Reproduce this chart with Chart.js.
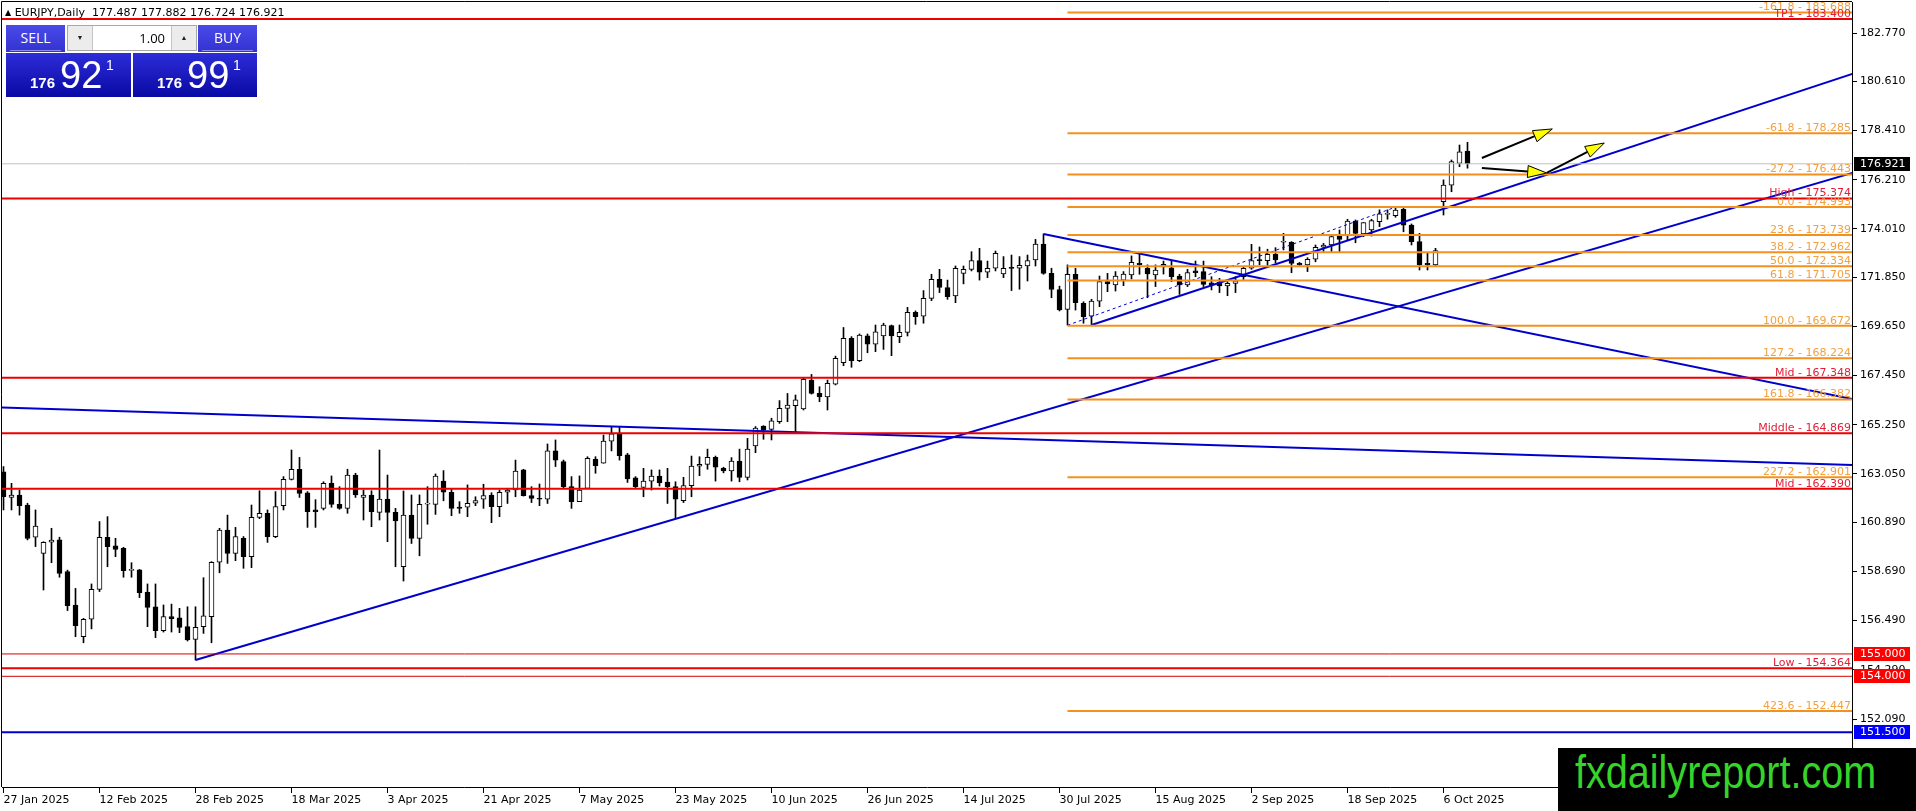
<!DOCTYPE html>
<html lang="en">
<head>
<meta charset="UTF-8" />
<title>EURJPY Daily</title>
<script src="https://cdn.jsdelivr.net/npm/chart.js"></script>
<style>
  html, body { margin: 0; padding: 0; background: #fff; overflow: hidden; }
  .wrap { position: relative; width: 1916px; height: 811px; }
  #chart { position: absolute; left: 0; top: 0; }
  .title { position: absolute; left: 5px; top: 6px; font: 11px "DejaVu Sans", sans-serif; line-height: 13px; color: #000; white-space: pre; }
  .title .tri { font-size: 8px; vertical-align: 1px; }
  .btn { position: absolute; top: 25px; width: 59px; height: 27px; background: linear-gradient(#4a4ae8, #3333d2); color: #fff; font: 14px "Open Sans", sans-serif; line-height: 26px; text-align: center; }
  .btn::after { content: ''; position: absolute; left: 4px; right: 4px; bottom: 1px; height: 1px; background: #8c8cf2; }
  .sell { left: 6px; }
  .buy { left: 198px; }
  .lot { position: absolute; left: 67px; top: 25px; width: 130px; height: 26px; box-sizing: border-box; border: 1px solid #a8a8a8; background: #ececec; }
  .lot .dn, .lot .up { position: absolute; top: 0; width: 24px; height: 24px; font-size: 7px; line-height: 24px; text-align: center; color: #222; }
  .lot .dn { left: 0; border-right: 1px solid #c4c4c4; }
  .lot .up { right: 0; border-left: 1px solid #c4c4c4; }
  .lot .val { position: absolute; left: 25px; right: 25px; top: 0; height: 24px; background: #fff; font: 13px "Open Sans", sans-serif; line-height: 24px; text-align: right; padding-right: 6px; box-sizing: border-box; }
  .quote { position: absolute; top: 53px; height: 44px; background: linear-gradient(#2d2dd8, #0909a4); color: #fff; }
  .quote span { position: absolute; font-family: "Liberation Sans", Arial, sans-serif; line-height: 1; }
  .quote .q1 { left: 24px; top: 22px; font-size: 15px; font-weight: bold; }
  .quote .q2 { left: 54px; top: 3px; font-size: 38px; }
  .quote .q3 { left: 100px; top: 5px; font-size: 14px; }
  .qsell { left: 6px; width: 125px; }
  .qbuy { left: 133px; width: 124px; }
  .mark { position: absolute; left: 1558px; top: 748px; width: 358px; height: 63px; background: #000; overflow: hidden; }
  .mark span { position: absolute; left: 17px; top: 0; font: 46px "Liberation Sans", Arial, sans-serif; line-height: 48px; color: #36d42a; transform: scaleX(0.86); transform-origin: left top; white-space: nowrap; }
</style>
</head>
<body>
<div class="wrap">
  <canvas id="chart" width="1916" height="811"></canvas>

  <!-- header line -->
  <div class="title" id="title"></div>

  <!-- one-click trading panel -->
  <div class="btn sell">SELL</div>
  <div class="lot"><span class="dn">&#9660;</span><span class="val">1.00</span><span class="up">&#9650;</span></div>
  <div class="btn buy">BUY</div>
  <div class="quote qsell" id="qsell"><span class="q1"></span><span class="q2"></span><span class="q3"></span></div>
  <div class="quote qbuy" id="qbuy"><span class="q1"></span><span class="q2"></span><span class="q3"></span></div>

  <div class="mark"><span>fxdailyreport.com</span></div>
</div>

<script>
// ---- data: daily EURJPY candles, bar 0 = 27 Jan 2025 ----
const opens = [
  163.15,162.00,162.11,161.66,160.22,159.50,160.00,160.10,158.68,157.19,
  155.77,156.55,157.89,160.22,159.83,159.72,158.74,158.76,157.77,157.11,
  156.04,156.67,156.62,156.22,155.65,156.22,156.67,159.10,160.54,159.50,
  160.17,159.35,161.11,161.29,160.25,161.63,162.81,163.26,162.21,161.44,
  161.51,162.63,161.69,161.51,163.00,162.00,162.11,161.33,161.93,161.33,
  158.90,161.21,160.17,161.70,161.69,162.73,162.23,161.57,161.56,161.74,
  161.92,162.11,161.59,162.23,162.33,163.23,162.08,161.96,161.92,164.08,
  163.60,162.48,161.81,162.40,163.70,163.53,164.52,164.84,163.90,162.88,
  162.45,162.73,162.96,162.69,162.48,161.86,162.53,163.40,163.48,163.79,
  163.30,163.18,163.63,162.90,164.30,165.19,165.04,165.39,165.98,166.10,
  165.96,167.25,166.65,166.50,167.07,168.03,169.11,168.12,169.23,168.85,
  169.22,169.68,169.19,169.38,170.28,170.11,170.90,171.75,171.39,171.01,
  172.02,172.20,172.59,172.07,172.25,171.99,172.25,172.25,172.35,172.62,
  173.33,172.02,171.30,170.41,171.98,170.68,170.11,170.78,171.65,171.50,
  171.72,171.95,172.47,172.25,171.95,172.35,172.27,171.90,171.50,172.13,
  172.10,171.60,171.62,171.46,171.57,171.87,172.25,172.62,172.59,172.87,
  173.41,173.41,172.47,172.40,172.65,173.19,173.29,173.69,173.69,174.36,
  173.78,173.96,174.33,174.66,174.60,174.88,174.18,173.44,172.47,172.40,
  175.23,175.97,176.94,177.487
];
const highs = [
  163.38,162.63,162.33,161.74,161.44,160.02,160.62,160.22,158.75,157.93,
  156.59,158.13,160.92,161.14,160.17,159.77,159.08,158.78,158.13,158.13,
  157.19,157.23,157.04,157.11,157.11,158.41,159.13,160.62,161.21,160.66,
  160.25,161.66,162.30,161.44,162.26,162.93,164.12,163.79,162.26,161.90,
  162.70,162.96,162.48,163.26,163.08,162.33,162.30,164.12,163.00,161.51,
  162.29,162.11,162.11,162.48,163.05,163.20,162.40,161.81,162.56,162.03,
  162.59,162.21,162.33,162.41,163.67,163.26,162.48,162.60,164.39,164.57,
  163.67,162.93,162.96,163.82,163.82,164.79,165.16,165.16,163.97,162.93,
  163.30,163.23,163.23,163.30,162.70,162.90,163.85,163.82,164.16,163.85,
  163.35,163.78,164.16,164.64,165.17,165.21,165.54,166.33,166.65,166.58,
  167.33,167.50,166.95,167.25,168.32,169.60,169.19,169.31,169.31,169.71,
  169.79,169.71,169.71,170.50,170.34,171.25,171.98,172.20,171.72,172.35,
  172.35,172.99,173.14,172.57,173.02,172.77,172.84,172.77,172.84,173.54,
  173.78,172.25,171.45,172.40,172.25,170.75,170.86,171.90,172.02,172.10,
  172.10,172.80,172.89,172.40,172.40,172.57,172.57,171.98,172.20,172.57,
  172.57,171.87,171.80,171.65,171.87,172.32,173.32,173.20,173.10,173.17,
  173.81,173.44,172.51,172.72,173.29,173.36,173.69,173.96,174.44,174.41,
  174.29,174.44,174.86,174.86,174.93,174.93,174.23,173.81,172.92,173.14,
  176.20,177.09,177.76,177.882
];
const lows = [
  161.44,161.44,161.21,160.10,159.80,157.86,159.08,158.43,156.94,155.77,
  155.50,156.12,157.79,158.90,159.35,158.43,158.43,157.52,156.22,155.73,
  155.98,155.98,155.95,155.58,154.73,155.92,155.50,158.63,159.05,159.17,
  158.83,158.86,161.05,159.99,160.20,161.44,162.78,162.00,160.66,160.66,
  161.44,161.56,161.47,161.29,162.00,160.99,160.69,160.99,160.02,158.90,
  158.26,159.94,159.39,160.80,161.24,161.85,161.18,161.29,161.14,161.63,
  161.51,160.87,161.14,161.73,162.03,162.06,161.77,161.63,161.73,163.38,
  162.41,161.51,161.81,162.40,163.08,163.53,164.08,163.67,162.67,162.44,
  162.03,162.33,162.51,161.73,161.06,161.77,162.03,162.97,163.26,162.73,
  163.10,162.73,162.70,162.78,164.00,164.60,164.57,165.31,165.39,164.94,
  165.91,166.62,166.28,165.91,167.03,167.89,167.82,168.07,168.47,168.52,
  168.62,168.34,168.92,169.22,169.74,169.79,170.80,171.16,170.86,170.71,
  171.55,172.13,171.72,171.83,172.13,171.83,171.25,171.31,171.68,172.35,
  171.98,170.93,170.34,169.71,170.38,169.79,169.71,170.53,171.20,171.23,
  171.47,171.77,171.98,170.93,171.43,171.99,171.65,171.08,171.43,171.87,
  171.43,171.28,171.16,171.02,171.16,171.75,172.20,172.40,172.37,172.50,
  173.07,172.05,172.32,172.10,172.54,172.95,172.99,172.99,173.51,173.39,
  173.66,173.69,174.11,174.44,174.53,173.88,173.29,172.17,172.17,172.35,
  174.63,175.67,176.79,176.724
];
const closes = [
  162.03,162.11,161.63,160.17,160.72,159.99,160.09,158.60,157.16,156.27,
  156.55,157.89,160.22,159.80,159.68,158.72,158.74,157.74,157.08,156.04,
  156.67,156.58,156.19,155.63,156.19,156.70,159.10,160.54,159.50,160.25,
  159.35,161.11,161.29,160.25,161.59,162.81,163.26,162.18,161.36,161.36,
  162.63,161.69,161.51,163.00,162.11,162.11,161.36,161.93,161.33,160.95,
  161.21,160.17,161.69,161.70,162.96,162.23,161.51,161.51,161.74,161.86,
  162.08,161.59,162.23,162.33,163.18,162.08,161.96,161.92,164.08,163.67,
  162.48,161.81,162.33,163.75,163.42,164.52,164.84,163.87,162.83,162.48,
  162.73,162.96,162.66,162.48,161.92,162.53,163.40,163.48,163.79,163.35,
  163.18,163.63,162.90,164.16,165.10,165.01,165.43,165.98,166.13,166.36,
  167.28,166.65,166.50,167.10,168.22,169.11,168.12,169.26,168.85,169.41,
  169.71,169.22,169.38,170.28,170.08,170.90,171.75,171.39,170.98,172.25,
  172.20,172.59,172.07,172.25,172.92,172.25,172.24,172.38,172.59,173.33,
  172.02,171.30,170.38,171.98,170.71,170.08,170.78,171.65,171.55,171.90,
  171.99,172.51,172.40,171.99,172.17,172.42,171.87,171.50,172.05,172.05,
  171.53,171.50,171.46,171.57,171.69,172.25,172.59,172.59,172.87,172.62,
  173.44,172.47,172.40,172.65,173.19,173.29,173.66,173.54,174.36,173.81,
  174.29,174.38,174.68,174.68,174.85,174.18,173.44,172.40,172.40,173.04,
  175.97,177.02,177.46,176.921
];

const dateLabels = ['27 Jan 2025','12 Feb 2025','28 Feb 2025','18 Mar 2025','3 Apr 2025','21 Apr 2025',
  '7 May 2025','23 May 2025','10 Jun 2025','26 Jun 2025','14 Jul 2025','30 Jul 2025',
  '15 Aug 2025','2 Sep 2025','18 Sep 2025','6 Oct 2025'];
const dateTickBars = [0,12,24,36,48,60,72,84,96,108,120,132,144,156,168,180];
const priceTicks = [182.770,180.610,178.410,176.210,174.010,171.850,169.650,167.450,
  165.250,163.050,160.890,158.690,156.490,154.290,152.090];

// fibo expansion drawn from bar 133
const fiboStartBar = 133;
const fiboLevels = ['-161.8','-61.8','-27.2','0.0','23.6','38.2','50.0','61.8','100.0','127.2','161.8','227.2','423.6'];
const fiboPrices = [183.688,178.285,176.443,174.993,173.739,172.962,172.334,171.705,169.672,168.224,166.382,162.901,152.447];

// red zone levels
const zoneNames = ['TP1','High','Mid','Middle','Mid','Low'];
const zonePrices = [183.400,175.374,167.348,164.869,162.390,154.364];

const roundLevels = [155.000, 154.000];
const supportLevel = 151.500;
const bidPrice = 176.921;
const askPrice = 176.991;

// trend lines [bar, price] -> [bar, price]
const trendFrom = [[24,154.73],[136,169.71],[130,173.78],[-0.2,166.02]];
const trendTo   = [[231.1,176.51],[231.1,180.94],[231.1,166.40],[231.1,163.45]];
const channelFrom = [133,169.70];
const channelTo   = [174,174.98];

// arrows [bar, price]
const arrowTails = [[184.8,177.18],[184.8,176.73],[192.9,176.51]];
const arrowTips  = [[193.6,178.48],[192.9,176.51],[200.1,177.85]];

// ---- view window ----
const xMin = -0.1875, xMax = 231.0625;
const yMin = 149.0494, yMax = 184.1564;

const ORANGE = '#f4901e', ORANGE_TXT = '#f2a040';
const RED = '#ee0000', RED_TXT = '#e0203a';
const BLUE = '#0000cd';

// header + quote panel text
const last = opens.length - 1;
document.getElementById('title').innerHTML = '<span class="tri">&#9650;</span> EURJPY,Daily  ' +
  [opens[last], highs[last], lows[last], closes[last]].map(v => v.toFixed(3)).join(' ');

function fillQuote(id, price) {
  const s = price.toFixed(3);
  const el = document.getElementById(id).children;
  el[0].textContent = s.slice(0, 3);
  el[1].textContent = s.slice(4, 6);
  el[2].textContent = s.slice(6);
}
fillQuote('qsell', bidPrice);
fillQuote('qbuy', askPrice);

// ---- datasets ----
const bars = opens.map((_, i) => i);
const wickData = bars.map(i => ({x: i, y: [lows[i], highs[i]]}));
const bodyData = bars.map(i => ({x: i, y: [opens[i], closes[i]]}));

function seg(p1, p2, color, width, dash) {
  return {
    type: 'line',
    data: [{x: p1[0], y: p1[1]}, {x: p2[0], y: p2[1]}],
    borderColor: color,
    borderWidth: width,
    borderDash: dash || [],
    pointRadius: 0,
    fill: false,
    clip: 0,
    order: 0
  };
}

const lineSets = [];
lineSets.push(seg([xMin, bidPrice], [xMax, bidPrice], '#c0c0c0', 1));
roundLevels.forEach(p => lineSets.push(seg([xMin, p], [xMax, p], '#d40000', 1)));
lineSets.push(seg([xMin, supportLevel], [xMax, supportLevel], BLUE, 2));
fiboPrices.forEach(p => lineSets.push(seg([fiboStartBar, p], [xMax, p], ORANGE, 2)));
zonePrices.forEach(p => lineSets.push(seg([xMin, p], [xMax, p], RED, 2)));
trendFrom.forEach((p, k) => lineSets.push(seg(p, trendTo[k], BLUE, 2)));
lineSets.push(seg(channelFrom, channelTo, BLUE, 1, [3, 3]));

// ---- overlay: level captions, arrows, frame, price tags ----
function drawArrow(ctx, x1, y1, x2, y2) {
  const a = Math.atan2(y2 - y1, x2 - x1);
  const L = 19, W = 6;
  const bx = x2 - L * Math.cos(a), by = y2 - L * Math.sin(a);
  ctx.strokeStyle = '#000';
  ctx.lineWidth = 2;
  ctx.beginPath(); ctx.moveTo(x1, y1); ctx.lineTo(bx, by); ctx.stroke();
  ctx.beginPath();
  ctx.moveTo(x2, y2);
  ctx.lineTo(bx + W * Math.sin(a), by - W * Math.cos(a));
  ctx.lineTo(bx - W * Math.sin(a), by + W * Math.cos(a));
  ctx.closePath();
  ctx.fillStyle = '#ffff00';
  ctx.fill();
  ctx.lineWidth = 1;
  ctx.stroke();
}

const overlay = {
  id: 'overlay',
  afterDatasetsDraw(chart) {
    const {ctx, chartArea: area, scales: {x, y}} = chart;
    ctx.save();
    ctx.font = '11px "DejaVu Sans", sans-serif';
    ctx.textAlign = 'right';
    ctx.textBaseline = 'alphabetic';
    ctx.fillStyle = ORANGE_TXT;
    fiboLevels.forEach((lv, k) => {
      ctx.fillText(lv + ' - ' + fiboPrices[k].toFixed(3), area.right - 1, Math.round(y.getPixelForValue(fiboPrices[k])) - 2);
    });
    ctx.fillStyle = RED_TXT;
    zoneNames.forEach((nm, k) => {
      ctx.fillText(nm + ' - ' + zonePrices[k].toFixed(3), area.right - 1, Math.round(y.getPixelForValue(zonePrices[k])) - 2);
    });
    arrowTails.forEach((t, k) => {
      drawArrow(ctx, x.getPixelForValue(t[0]), y.getPixelForValue(t[1]),
        x.getPixelForValue(arrowTips[k][0]), y.getPixelForValue(arrowTips[k][1]));
    });
    ctx.restore();
  },
  afterDraw(chart) {
    const {ctx, chartArea: area, scales: {y}} = chart;
    ctx.save();
    // left + top frame
    ctx.strokeStyle = '#000';
    ctx.lineWidth = 1;
    ctx.beginPath();
    ctx.moveTo(1.5, area.bottom); ctx.lineTo(1.5, 1.5); ctx.lineTo(area.right, 1.5);
    ctx.stroke();
    // price tags on the axis
    const tags = [bidPrice, roundLevels[0], roundLevels[1], supportLevel];
    const tagColors = ['#000000', '#ff0000', '#ff0000', '#0000ff'];
    ctx.font = '11px "DejaVu Sans", sans-serif';
    ctx.textAlign = 'left';
    ctx.textBaseline = 'middle';
    tags.forEach((v, k) => {
      const py = Math.round(y.getPixelForValue(v));
      ctx.fillStyle = tagColors[k];
      ctx.fillRect(area.right + 2, py - 7, 56, 14);
      ctx.fillStyle = '#fff';
      ctx.fillText(v.toFixed(3), area.right + 8, py + 0.5);
    });
    ctx.restore();
  }
};

function noPad(s) {
  s.paddingTop = 0; s.paddingBottom = 0; s.paddingLeft = 0; s.paddingRight = 0;
}

Chart.defaults.font.family = '"DejaVu Sans", sans-serif';
Chart.defaults.font.size = 11;
Chart.defaults.color = '#000';

const chart = new Chart(document.getElementById('chart').getContext('2d'), {
  type: 'bar',
  data: {
    datasets: [
      ...lineSets,
      {
        data: bodyData,
        barThickness: 5,
        minBarLength: 1,
        grouped: false,
        backgroundColor: c => closes[c.dataIndex] >= opens[c.dataIndex] ? '#ffffff' : '#000000',
        borderColor: '#000',
        borderWidth: 1,
        borderSkipped: false,
        order: 1
      },
      {
        data: wickData,
        barThickness: 1,
        grouped: false,
        backgroundColor: '#000',
        borderWidth: 0,
        order: 2
      }
    ]
  },
  options: {
    responsive: false,
    devicePixelRatio: 1,
    animation: false,
    events: [],
    layout: { padding: { left: 2, top: 2, right: 0, bottom: 0 } },
    plugins: { legend: { display: false }, tooltip: { enabled: false } },
    scales: {
      x: {
        type: 'linear',
        offset: false,
        min: xMin,
        max: xMax,
        afterBuildTicks: s => { s.ticks = dateTickBars.map(v => ({value: v})); },
        afterFit: s => { s.height = 24; noPad(s); },
        grid: { offset: false, drawOnChartArea: false, drawTicks: true, tickLength: 6, color: '#000' },
        border: { display: true, color: '#000' },
        ticks: { autoSkip: false, maxRotation: 0, align: 'start', padding: 1, callback: (v, i) => dateLabels[i] }
      },
      y: {
        type: 'linear',
        position: 'right',
        min: yMin,
        max: yMax,
        afterBuildTicks: s => { s.ticks = priceTicks.map(v => ({value: v})); },
        afterFit: s => { s.width = 64; noPad(s); },
        grid: { drawOnChartArea: false, drawTicks: true, tickLength: 5, color: '#000' },
        border: { display: true, color: '#000' },
        ticks: { padding: 3, callback: v => v.toFixed(3) }
      }
    }
  },
  plugins: [overlay]
});
</script>
</body>
</html>
